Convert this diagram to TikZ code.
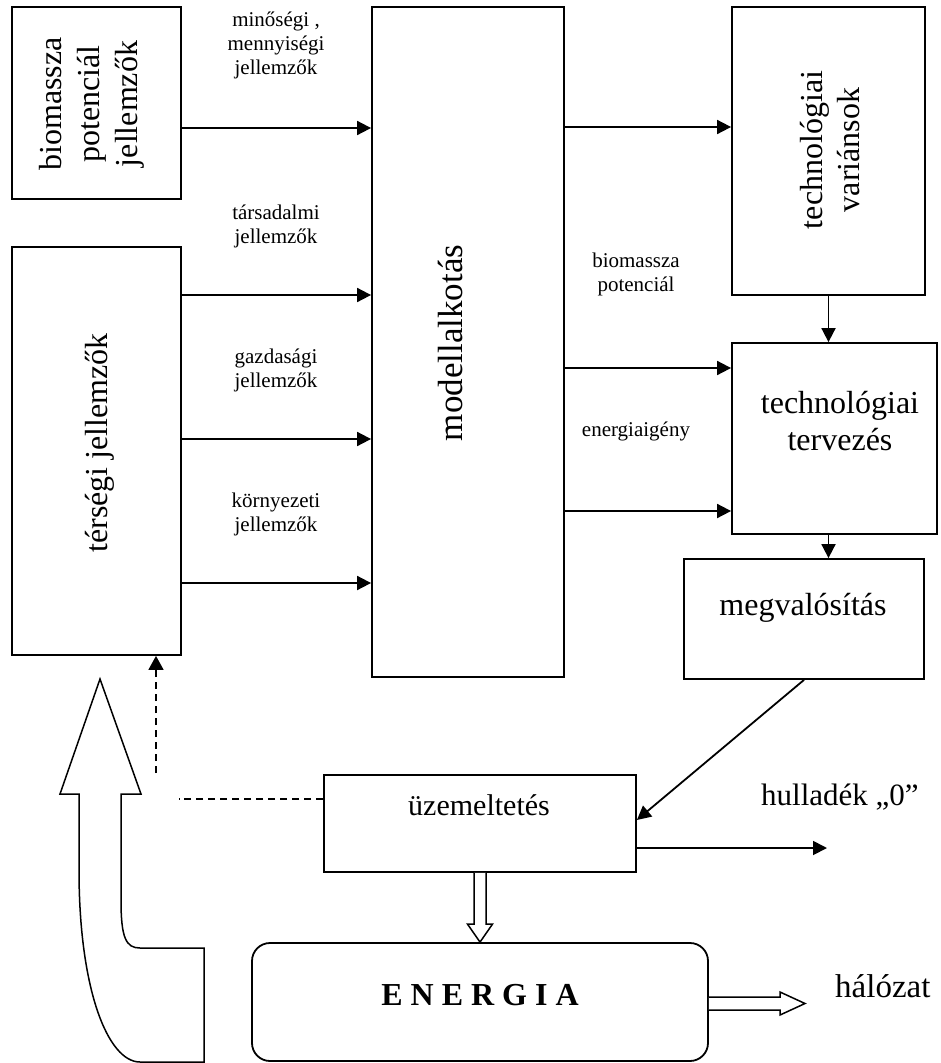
\documentclass[tikz,border=0pt]{standalone}
\usepackage{fontspec}
\setmainfont{Liberation Serif}
\usetikzlibrary{arrows.meta,calc}
\newcommand{\mystack}[1]{\begin{tabular}[t]{@{}c@{}}#1\end{tabular}}
\begin{document}
\begin{tikzpicture}[x=1pt,y=-1pt,
  box/.style={draw, line width=1.8pt, rectangle, inner sep=0pt},
  arr/.style={line width=1.8pt, -{Triangle[length=14pt,width=14pt]}},
  dsh/.style={line width=1.6pt, dash pattern=on 7pt off 5pt},
  hollow/.style={draw, line width=1.5pt, fill=white, line join=miter},
  small/.style={inner sep=0pt, anchor=base, font=\fontsize{21}{24}\selectfont},
  big/.style={inner sep=0pt, font=\fontsize{32}{38}\selectfont},
]
\useasboundingbox (0,0) rectangle (940,1063);

% boxes
\node[box, minimum width=169pt, minimum height=192pt] (bio) at (96.5,103) {};
\node[box, minimum width=169pt, minimum height=408pt] (terseg) at (96.5,451) {};
\node[box, minimum width=192pt, minimum height=670pt] (model) at (468,342) {};
\node[box, minimum width=193pt, minimum height=288pt] (var) at (828.5,151) {};
\node[box, minimum width=205pt, minimum height=191pt] (terv) at (834.5,438.5) {};
\node[box, minimum width=240pt, minimum height=120pt] (megv) at (804,619) {};
\node[box, minimum width=312pt, minimum height=97pt] (uzem) at (480,823.5) {};
\node[box, rounded corners=18pt, minimum width=456pt, minimum height=118pt] (energia) at (480,1002) {};

% box texts
\node[big, rotate=90, align=center] (biotxt) at (92,104) {biomassza\\potenciál\\jellemzők};
\node[big, rotate=90] (tersegtxt) at (100,443) {térségi jellemzők};
\node[inner sep=0pt, rotate=90, font=\fontsize{35}{40}\selectfont] (modeltxt) at (450,343) {modellalkotás};
\node[inner sep=0pt, rotate=90, align=center, font=\fontsize{32}{37}\selectfont] (vartxt) at (830.5,150) {technológiai\\variánsok};
\node[inner sep=0pt, anchor=base, font=\fontsize{32}{37}\selectfont] (tervtxt) at (840,413) {\mystack{technológiai\\tervezés}};
\node[big, anchor=base] (megvtxt) at (803,615) {megvalósítás};
\node[inner sep=0pt, anchor=base, font=\fontsize{30}{36}\selectfont] (uzemtxt) at (479,815) {üzemeltetés};
\node[inner sep=0pt, anchor=base, font=\fontsize{32}{38}\selectfont\bfseries] (energtxt) at (480,1005) {E N E R G I A};

% free labels
\node[small] (l1) at (276,26) {\mystack{minőségi ,\\mennyiségi\\jellemzők}};
\node[small] (l2) at (276,219) {\mystack{társadalmi\\jellemzők}};
\node[small] (l3) at (276,363) {\mystack{gazdasági\\jellemzők}};
\node[small] (l4) at (276,507) {\mystack{környezeti\\jellemzők}};
\node[small] (l5) at (636,267) {\mystack{biomassza\\potenciál}};
\node[small] (l6) at (636,436) {energiaigény};
\node[inner sep=0pt, anchor=base west, font=\fontsize{31}{36}\selectfont] (hullad) at (761,805) {hulladék „0”};
\node[inner sep=0pt, anchor=base west, font=\fontsize{33}{38}\selectfont] (halozat) at (835,997) {hálózat};

% connectors
\draw[arr] (bio.east |- 0,128) -- (model.west |- 0,128);
\foreach \yy in {295,439,583} \draw[arr] (terseg.east |- 0,\yy) -- (model.west |- 0,\yy);
\draw[arr] (model.east |- 0,127) -- (var.west |- 0,127);
\foreach \yy in {368,511} \draw[arr] (model.east |- 0,\yy) -- (terv.west |- 0,\yy);
\draw[arr] (var.south) -- (var.south |- terv.north);
\draw[arr] (var.south |- terv.south) -- (var.south |- megv.north);
\draw[arr] (megv.south) -- (uzem.east |- 0,820);
\coordinate (hulend) at (827,848);
\draw[arr] (uzem.east |- hulend) -- (hulend);

% dashed feedback
\coordinate (dshend) at (179,799);
\draw[dsh] (uzem.west |- dshend) -- (dshend);
\coordinate (dshstart) at (156,773);
\draw[dsh, -{Triangle[length=14pt,width=15pt]}] (dshstart) -- (dshstart |- terseg.south);

% hollow arrow uzem -> energia
\draw[hollow] ($(uzem.south)+(-6,0)$) -- ($(energia.north)+(-6,-18)$) -- ($(energia.north)+(-12.5,-18)$)
  -- (energia.north) -- ($(energia.north)+(12.5,-18)$) -- ($(energia.north)+(6,-18)$) -- ($(uzem.south)+(6,0)$);

% hollow arrow energia -> halozat
\coordinate (haltip) at (805,1003.5);
\draw[hollow] (energia.east |- 0,997) -- (780,997) -- (780,992) -- (haltip) -- (780,1015) -- (780,1010) -- (energia.east |- 0,1010);

% big curved hollow arrow
\coordinate (bigtip) at (100,679);
\draw[hollow] (bigtip) -- (141,794) -- (121,794) -- (121,900) .. controls (121,938) and (126,948) .. (140,948)
  -- (204,948) -- (204,1062) -- (140,1062) .. controls (108,1062) and (79,990) .. (79,870) -- (79,794) -- (60,794) -- cycle;
\end{tikzpicture}
\end{document}
